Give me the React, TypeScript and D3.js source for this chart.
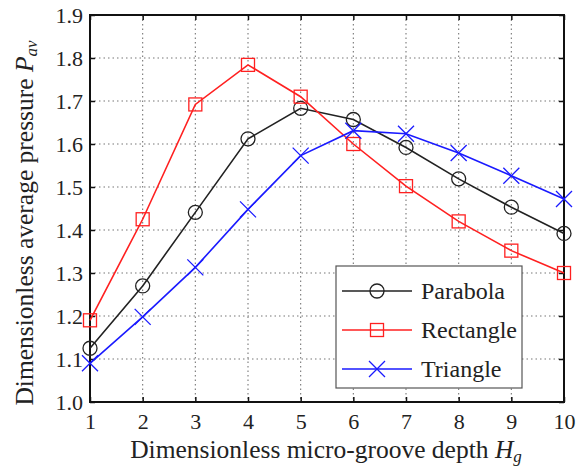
import React, { useEffect, useRef } from 'react';
import * as d3 from 'd3';

const depths = [1, 2, 3, 4, 5, 6, 7, 8, 9, 10];
const parabola = [1.125, 1.27, 1.441, 1.612, 1.683, 1.657, 1.592, 1.519, 1.453, 1.392];
const rectangle = [1.19, 1.425, 1.692, 1.784, 1.71, 1.6, 1.502, 1.42, 1.352, 1.3];
const triangle = [1.09, 1.198, 1.313, 1.448, 1.573, 1.631, 1.624, 1.579, 1.526, 1.472];
const yTicks = [1.0, 1.1, 1.2, 1.3, 1.4, 1.5, 1.6, 1.7, 1.8, 1.9];
const seriesNames = ['Parabola', 'Rectangle', 'Triangle'];
const seriesColors = ['#222222', '#ff2020', '#1a1aff'];

const App = () => {
  const ref = useRef<SVGSVGElement>(null);

  useEffect(() => {
    const svg = d3.select(ref.current);
    svg.selectAll('*').remove();
    const font = "'Liberation Serif', 'DejaVu Serif', serif";
    const left = 90, right = 564, top = 15, bottom = 402;

    const x = d3.scaleLinear().domain([1, 10]).range([left, right]);
    const y = d3.scaleLinear().domain([1.0, 1.9]).range([bottom, top]);

    svg.append('rect').attr('width', 583).attr('height', 468).attr('fill', '#fff');

    // grid
    const grid = svg.append('g').attr('stroke', '#777').attr('stroke-width', 1.1)
      .attr('stroke-dasharray', '1.5,3');
    grid.selectAll('.gx').data(depths.slice(1, -1)).enter().append('line')
      .attr('x1', d => x(d)).attr('x2', d => x(d)).attr('y1', top).attr('y2', bottom);
    grid.selectAll('.gy').data(yTicks.slice(1, -1)).enter().append('line')
      .attr('x1', left).attr('x2', right).attr('y1', d => y(d)).attr('y2', d => y(d));

    // axes (ticks inside)
    const axB = svg.append('g').attr('transform', `translate(0,${bottom})`)
      .call(d3.axisBottom(x).tickValues(depths).tickSizeInner(-5).tickSizeOuter(0).tickPadding(11).tickFormat(d3.format('d')));
    const axL = svg.append('g').attr('transform', `translate(${left},0)`)
      .call(d3.axisLeft(y).tickValues(yTicks).tickSizeInner(-5).tickSizeOuter(0).tickPadding(7).tickFormat(d3.format('.1f')));
    const axT = svg.append('g').attr('transform', `translate(0,${top})`)
      .call(d3.axisTop(x).tickValues(depths).tickSizeInner(-5).tickSizeOuter(0).tickFormat(() => ''));
    const axR = svg.append('g').attr('transform', `translate(${right},0)`)
      .call(d3.axisRight(y).tickValues(yTicks).tickSizeInner(-5).tickSizeOuter(0).tickFormat(() => ''));
    [axB, axL, axT, axR].forEach(a => {
      a.attr('font-family', null).attr('font-size', null);
      a.select('.domain').remove();
      a.selectAll('line').attr('stroke', '#111').attr('stroke-width', 1.5);
      a.selectAll('text').style('font-family', font).style('font-size', '22px').attr('fill', '#222');
    });
    axB.selectAll('text').attr('dy', '0.71em');

    svg.append('rect').attr('x', left).attr('y', top).attr('width', right - left).attr('height', bottom - top)
      .attr('fill', 'none').attr('stroke', '#111').attr('stroke-width', 2);

    const allSeries = [parabola, rectangle, triangle];
    const line = d3.line<number>().x((_, i) => x(depths[i])).y(d => y(d));

    const drawMarker = (g: any, kind: number, cx: number, cy: number, color: string) => {
      if (kind === 0) {
        g.append('circle').attr('cx', cx).attr('cy', cy).attr('r', 7)
          .attr('fill', 'none').attr('stroke', color).attr('stroke-width', 1.3);
      } else if (kind === 1) {
        g.append('rect').attr('x', cx - 6.5).attr('y', cy - 6.5).attr('width', 13).attr('height', 13)
          .attr('fill', 'none').attr('stroke', color).attr('stroke-width', 1.3);
      } else {
        const s = 8;
        g.append('path').attr('d', `M${cx - s},${cy - s}L${cx + s},${cy + s}M${cx - s},${cy + s}L${cx + s},${cy - s}`)
          .attr('fill', 'none').attr('stroke', color).attr('stroke-width', 1.3);
      }
    };

    allSeries.forEach((vals, k) => {
      const g = svg.append('g');
      g.append('path').attr('d', line(vals)).attr('fill', 'none')
        .attr('stroke', seriesColors[k]).attr('stroke-width', 1.6);
      vals.forEach((v, i) => drawMarker(g, k, x(depths[i]), y(v), seriesColors[k]));
    });

    // legend
    const lg = svg.append('g');
    lg.append('rect').attr('x', 336).attr('y', 266).attr('width', 186).attr('height', 122)
      .attr('fill', '#fff').attr('stroke', '#555').attr('stroke-width', 1.2);
    const rowY = [291, 330, 369];
    seriesNames.forEach((name, k) => {
      lg.append('line').attr('x1', 342).attr('x2', 412).attr('y1', rowY[k]).attr('y2', rowY[k])
        .attr('stroke', seriesColors[k]).attr('stroke-width', 1.6);
      drawMarker(lg, k, 377, rowY[k], seriesColors[k]);
      lg.append('text').attr('x', 421).attr('y', rowY[k]).attr('dy', '0.35em')
        .style('font-family', font).style('font-size', '24px').attr('fill', '#222').text(name);
    });

    // axis titles
    const xt = svg.append('text').attr('x', 326).attr('y', 458)
      .attr('text-anchor', 'middle').style('font-family', font).style('font-size', '25.5px').attr('fill', '#222');
    xt.append('tspan').text('Dimensionless micro-groove depth ');
    xt.append('tspan').attr('font-style', 'italic').text('H');
    xt.append('tspan').attr('font-style', 'italic').style('font-size', '17px').attr('dy', 4).text('g');

    const yt = svg.append('text').attr('transform', 'translate(33,223) rotate(-90)')
      .attr('text-anchor', 'middle').style('font-family', font).style('font-size', '25.5px').attr('fill', '#222');
    yt.append('tspan').text('Dimensionless average pressure ');
    yt.append('tspan').attr('font-style', 'italic').text('P');
    yt.append('tspan').attr('font-style', 'italic').style('font-size', '17px').attr('dy', 4).text('av');
  }, []);

  return <svg ref={ref} width={583} height={468} style={{ position: 'absolute', left: 0, top: 0 }}></svg>;
};

export default App;
